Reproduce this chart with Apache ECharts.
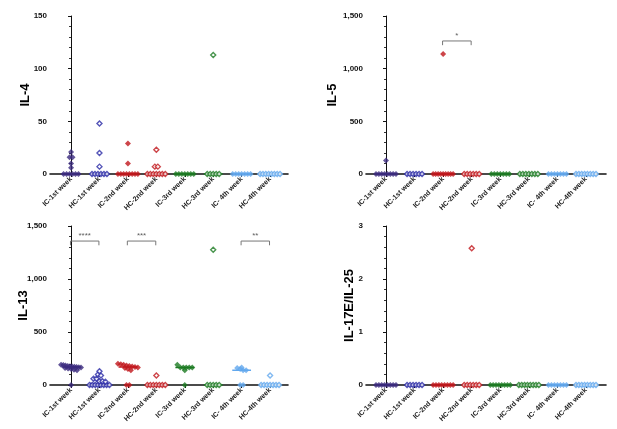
<!DOCTYPE html>
<html><head><meta charset="utf-8">
<script src="https://cdn.jsdelivr.net/npm/echarts@6/dist/echarts.min.js"></script>
<style>html,body{margin:0;padding:0;background:#fff}#c{width:617px;height:429px}</style>
</head><body><div id="c"></div>
<script>
// ---------- data ----------
const categories = ['IC-1st week','HC-1st week','IC-2nd week','HC-2nd week','IC-3rd week','HC-3rd week','IC- 4th week','HC-4th week'];
const groupColors = ['#3b2b7e','#2a2aa6','#c0161c','#c0161c','#1c7a22','#1c7a22','#62a8ee','#62a8ee'];
const groupFilled = [true,false,true,false,true,false,true,false];

const il4Values = [
  [21,16,16,10,6,0,0,0,0,0,0],
  [48,20,7,0,0,0,0,0,0],
  [29,10,0,0,0,0,0,0,0,0],
  [23,7,7,0,0,0,0,0,0,0],
  [0,0,0,0,0,0,0],
  [113,0,0,0,0,0],
  [0,0,0,0,0,0,0],
  [0,0,0,0,0,0,0,0]
];
const il5Values = [
  [128,0,0,0,0,0,0,0,0],
  [0,0,0,0,0,0],
  [1140,0,0,0,0,0,0,0,0,0],
  [0,0,0,0,0,0],
  [0,0,0,0,0,0,0],
  [0,0,0,0,0,0,0],
  [0,0,0,0,0,0,0],
  [0,0,0,0,0,0,0,0]
];
const il13Values = [
  [190,188,185,180,178,175,172,170,168,165,160,155,150,145,140,0],
  [130,100,90,60,60,35,35,30,0,0,0,0,0,0,0,0],
  [200,195,190,185,180,175,170,165,160,150,140,0,0],
  [90,0,0,0,0,0,0,0],
  [190,165,165,165,165,165,140,0],
  [1275,0,0,0,0,0],
  [165,160,150,140,140,0,0],
  [90,0,0,0,0,0,0,0]
];
const il17Values = [
  [0,0,0,0,0,0,0,0],
  [0,0,0,0,0,0],
  [0,0,0,0,0,0,0,0],
  [2.58,0,0,0,0,0,0],
  [0,0,0,0,0,0,0,0],
  [0,0,0,0,0,0,0,0],
  [0,0,0,0,0,0,0],
  [0,0,0,0,0,0,0,0]
];
// brackets: [fromGroup, toGroup, label]
const il5Brackets = [[2,3,'*']];
const il13Brackets = [[0,1,'****'],[2,3,'***'],[6,7,'**']];

// ---------- layout ----------
const panels = [
  {values: il4Values, name:'IL-4', max:150, interval:50, left:50, top:16, width:238, height:158, xmin:-0.74, xmax:7.63, nameGap:18, brackets:[], by:0, leg:0},
  {values: il5Values, name:'IL-5', max:1500, interval:500, left:366, top:16, width:240, height:158, xmin:-0.7, xmax:7.7, nameGap:27, brackets:il5Brackets, by:1263, leg:40},
  {values: il13Values, name:'IL-13', max:1500, interval:500, left:50, top:226, width:238, height:159, xmin:-0.74, xmax:7.63, nameGap:20, brackets:il13Brackets, by:1358, leg:40},
  {values: il17Values, name:'IL-17E/IL-25', max:3, interval:1, left:366, top:226, width:240, height:159, xmin:-0.7, xmax:7.7, nameGap:10, brackets:[], by:0, leg:0}
];
const FONT = '"Liberation Sans", Arial, sans-serif';

function layout(vals, max, g){
  const bin = max/32, rows = {};
  vals.forEach(v => { const k = Math.round(v/bin); (rows[k] = rows[k] || []).push(v); });
  const pts = [];
  Object.keys(rows).forEach(k => {
    const r = rows[k], n = r.length;
    const step = n > 1 ? Math.min(0.105, 0.7/(n-1)) : 0;
    r.forEach((v,i) => pts.push([g + (i-(n-1)/2)*step, v]));
  });
  return pts;
}
function median(a){ const s=[...a].sort((x,y)=>x-y), n=s.length; return n%2 ? s[(n-1)/2] : (s[n/2-1]+s[n/2])/2; }

const grid=[], xAxis=[], yAxis=[], series=[];
const ticks = categories.map((c,i)=>i);
panels.forEach((p,pi)=>{
  grid.push({left:p.left, top:p.top, width:p.width, height:p.height, outerBoundsMode:'none', containLabel:false});
  xAxis.push({
    type:'value', gridIndex:pi, min:p.xmin, max:p.xmax,
    axisLine:{show:true, onZero:true, lineStyle:{color:'#111', width:1.6}},
    axisTick:{show:true, customValues:ticks, length:3, lineStyle:{color:'#111'}},
    axisLabel:{show:true, customValues:ticks, formatter:v=>categories[Math.round(v)], rotate:45, fontSize:7, fontWeight:'bold', margin:4, color:'#222', fontFamily:FONT},
    splitLine:{show:false}
  });
  yAxis.push({
    type:'value', gridIndex:pi, min:0, max:p.max, interval:p.interval,
    name:p.name, nameLocation:'middle', nameGap:p.nameGap, nameMoveOverlap:false,
    nameTextStyle:{fontSize:13, fontWeight:'bold', color:'#000', fontFamily:FONT},
    axisLine:{show:true, lineStyle:{color:'#111', width:1}},
    axisTick:{show:true, length:3, lineStyle:{color:'#111'}},
    minorTick:{show:true, splitNumber:5, length:2, lineStyle:{color:'#333'}},
    axisLabel:{fontSize:8, fontWeight:'bold', margin:3, color:'#111', fontFamily:FONT, formatter:v=>v.toLocaleString('en-US')},
    splitLine:{show:false}
  });
  p.values.forEach((vals,g)=>{
    const col = groupColors[g], m = median(vals);
    series.push({type:'line', xAxisIndex:pi, yAxisIndex:pi, symbol:'none', silent:true, z:3,
      lineStyle:{color:col, width:1.5}, data:[[g-0.33,m],[g+0.33,m]]});
    series.push({type:'scatter', xAxisIndex:pi, yAxisIndex:pi, symbol:'diamond', symbolSize: groupFilled[g] ? 6 : 5, z:4,
      itemStyle: groupFilled[g] ? {color:col} : {color:'#fff', borderColor:col, borderWidth:1.4},
      data: layout(vals, p.max, g)});
  });
  p.brackets.forEach(b=>{
    const a=b[0]-0.02, c=b[1]-0.02;
    series.push({type:'line', xAxisIndex:pi, yAxisIndex:pi, symbol:'none', silent:true, z:2,
      lineStyle:{color:'#777', width:1}, data:[[a,p.by-p.leg],[a,p.by],[c,p.by],[c,p.by-p.leg]]});
    series.push({type:'scatter', xAxisIndex:pi, yAxisIndex:pi, symbolSize:0, silent:true, z:2,
      label:{show:true, position:'top', distance:1, formatter:b[2], fontSize:8, color:'#333', fontFamily:FONT},
      data:[[(a+c)/2, p.by]]});
  });
});

const chart = echarts.init(document.getElementById('c'), null, {renderer:'canvas'});
chart.setOption({animation:false, backgroundColor:'#fff', grid, xAxis, yAxis, series});
</script>
</body></html>
